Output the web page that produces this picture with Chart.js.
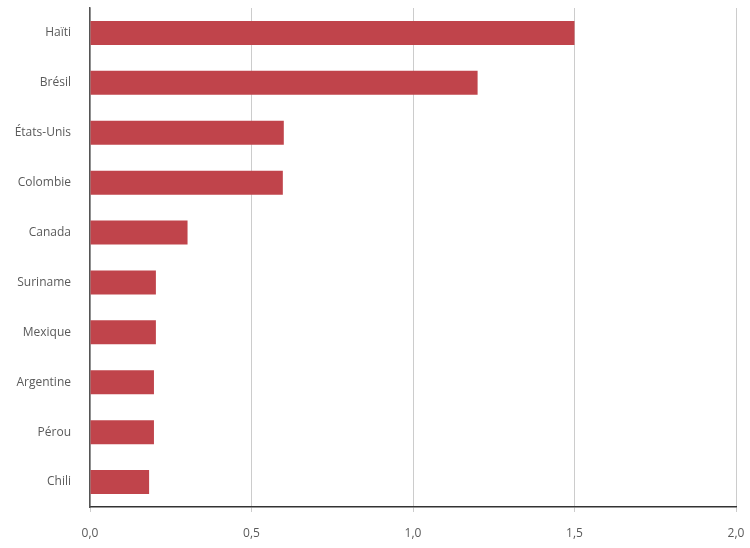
<!DOCTYPE html>
<html>
<head>
<meta charset="utf-8">
<script src="https://cdn.jsdelivr.net/npm/chart.js@4"></script>
<style>
  body { margin: 0; background: #fff; font-family: 'Open Sans', sans-serif; }
</style>
</head>
<body>
<canvas id="chart" width="750" height="548"></canvas>
<script>
const countries = ['Haïti', 'Brésil', 'États-Unis', 'Colombie', 'Canada', 'Suriname', 'Mexique', 'Argentine', 'Pérou', 'Chili'];
const values = [1.5, 1.2, 0.6, 0.597, 0.302, 0.204, 0.204, 0.198, 0.198, 0.183];
const xTicks = [0, 0.5, 1.0, 1.5, 2.0];

function draw() {
    Chart.defaults.font.family = "'Open Sans', sans-serif";
    Chart.defaults.font.size = 12;
    Chart.defaults.color = '#5a5a5a';

    const ctx = document.getElementById('chart').getContext('2d');
    new Chart(ctx, {
        type: 'bar',
        data: {
            labels: countries,
            datasets: [{
                data: values,
                backgroundColor: '#c0444b',
                borderWidth: 0,
                categoryPercentage: 1,
                barPercentage: 0.48
            }]
        },
        options: {
            indexAxis: 'y',
            responsive: false,
            animation: false,
            layout: { padding: { top: 8, right: 14, bottom: 7, left: 0 } },
            plugins: {
                legend: { display: false },
                tooltip: { enabled: false }
            },
            scales: {
                x: {
                    min: xTicks[0],
                    max: xTicks[xTicks.length - 1],
                    afterBuildTicks: (axis) => { axis.ticks = xTicks.map(v => ({ value: v })); },
                    // fixed band height, and keep the label gap from widening the side margins
                    afterFit: (axis) => {
                        axis.height = 34;
                        axis.paddingLeft = 0;
                        axis.paddingRight = 0;
                    },
                    ticks: {
                        padding: 14,
                        maxRotation: 0,
                        callback: (v) => Number(v).toFixed(1).replace('.', ',')
                    },
                    grid: { color: '#cccccc', tickLength: 5, drawTicks: true },
                    border: { color: '#333333', width: 1.5 }
                },
                y: {
                    afterFit: (axis) => { axis.width = 90; },
                    ticks: { padding: 0 },
                    grid: {
                        display: true,
                        drawOnChartArea: false,
                        drawTicks: true,
                        tickLength: 19,
                        tickColor: 'rgba(0,0,0,0)'
                    },
                    border: { color: '#555555', width: 1.5 }
                }
            }
        }
    });
}

document.fonts.load('12px "Open Sans"').then(draw, draw);
</script>
</body>
</html>
